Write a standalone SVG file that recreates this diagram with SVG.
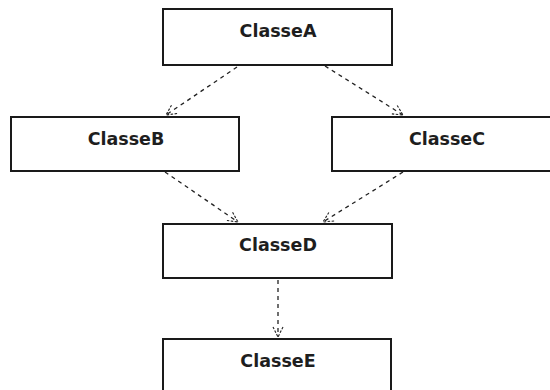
<svg xmlns="http://www.w3.org/2000/svg" width="550" height="390" viewBox="0 0 550 390">
<style>
.box{fill:#fff;stroke:#1a1a1a;stroke-width:2}
.lbl{font-family:"DejaVu Sans",Tahoma,sans-serif;font-weight:bold;font-size:17.5px;fill:#1e1e1e;text-anchor:middle}
.dep{fill:none;stroke:#222;stroke-width:1.3;stroke-dasharray:4 4}
</style>
<defs>
<marker id="open" viewBox="0 0 12 12" refX="11" refY="6" markerWidth="12" markerHeight="12" markerUnits="userSpaceOnUse" orient="auto">
<path d="M1,1 L11,6 L1,11" fill="none" stroke="#222" stroke-width="1.1" stroke-dasharray="2.5 1.5"/>
</marker>
</defs>
<rect width="550" height="390" fill="#fff"/>
<g id="connectors">
<line class="dep" x1="237" y1="67" x2="166" y2="115" marker-end="url(#open)"/>
<line class="dep" x1="325" y1="66" x2="403" y2="115" marker-end="url(#open)"/>
<line class="dep" x1="165" y1="172" x2="238" y2="222" marker-end="url(#open)"/>
<line class="dep" x1="403" y1="172" x2="323" y2="222" marker-end="url(#open)"/>
<line class="dep" x1="278" y1="280" x2="278" y2="337" marker-end="url(#open)"/>
</g>
<g id="ClasseA"><rect class="box" x="163" y="9" width="229" height="56"/><text class="lbl" x="278" y="37">ClasseA</text></g>
<g id="ClasseB"><rect class="box" x="11" y="117" width="228" height="54"/><text class="lbl" x="126" y="145">ClasseB</text></g>
<g id="ClasseC"><rect class="box" x="332" y="117" width="230" height="54"/><text class="lbl" x="447" y="145">ClasseC</text></g>
<g id="ClasseD"><rect class="box" x="163" y="224" width="229" height="54"/><text class="lbl" x="278" y="251">ClasseD</text></g>
<g id="ClasseE"><rect class="box" x="163" y="339" width="228" height="60"/><text class="lbl" x="278" y="367">ClasseE</text></g>
</svg>
